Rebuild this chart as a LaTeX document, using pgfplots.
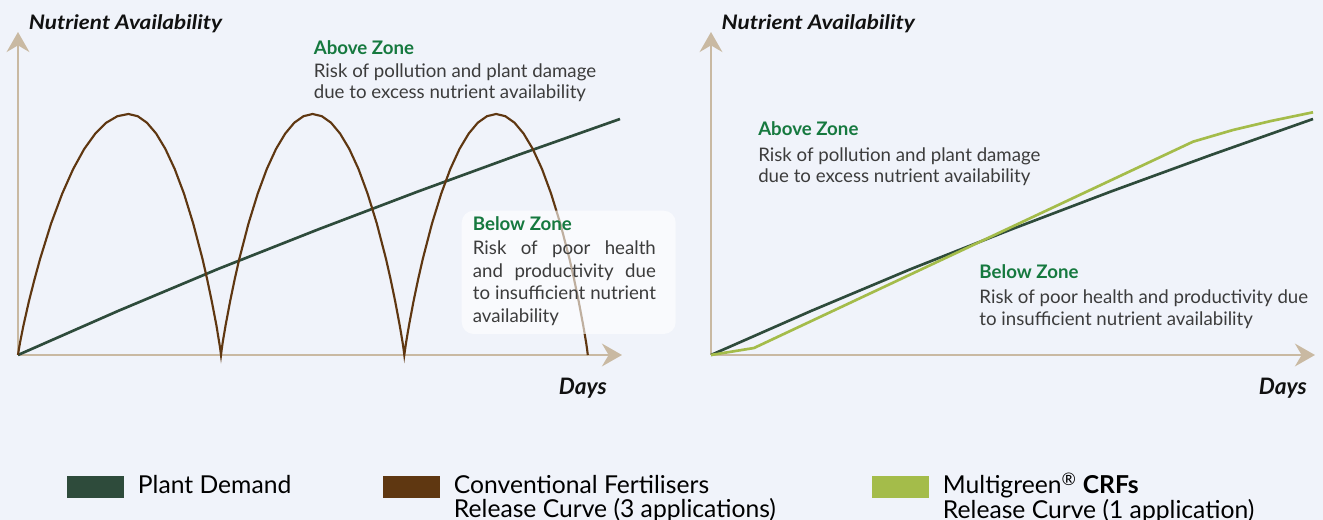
\documentclass[border=0pt]{standalone}
\usepackage{fontspec}
\setmainfont{Lato}
\usepackage{pgfplots}
\pgfplotsset{compat=1.18}
\usetikzlibrary{arrows.meta}
\definecolor{bg}{HTML}{F0F3FA}
\definecolor{axiscol}{HTML}{C9B9A2}
\definecolor{demand}{HTML}{2E4B3B}
\definecolor{brownc}{HTML}{5F3711}
\definecolor{lightg}{HTML}{A4BC4A}
\definecolor{zoneg}{HTML}{16793F}
\definecolor{bodytxt}{HTML}{3C3C3C}
\definecolor{titletxt}{HTML}{111111}

\pgfplotstableread{
x y
0 0
100 44
200 86
300 125.5
400 163.5
500 200
602 236
}\demandtab

\pgfplotstableread{
x y
0 0
1.1 7.1
2.2 13.2
5.5 29.7
11.0 54.1
16.6 76.0
22.1 96.1
33.1 131.5
44.2 161.3
55.2 186.0
66.2 206.0
77.3 221.4
88.3 232.3
99.4 238.8
110.4 241
119.7 238.8
128.9 232.3
138.2 221.4
147.4 206.0
156.7 186.0
166.0 161.3
175.2 131.5
184.5 96.1
189.1 76.0
193.7 54.1
198.4 29.7
201.1 13.2
202.1 7.1
203.0 0
203.9 7.1
204.8 13.2
207.6 29.7
212.2 54.1
216.75 76.0
221.3 96.1
230.5 131.5
239.7 161.3
248.8 186.0
258.0 206.0
267.2 221.4
276.3 232.3
285.5 238.8
294.65 241
303.8 238.8
313.0 232.3
322.1 221.4
331.3 206.0
340.5 186.0
349.6 161.3
358.8 131.5
368.0 96.1
372.55 76.0
377.1 54.1
381.7 29.7
384.5 13.2
385.4 7.1
386.3 0
387.3 7.1
388.2 13.2
391.0 29.7
395.6 54.1
400.2 76.0
404.8 96.1
414.0 131.5
423.2 161.3
432.3 186.0
441.5 206.0
450.7 221.4
459.8 232.3
469.0 238.8
478.15 241
487.3 238.8
496.5 232.3
505.6 221.4
514.8 206.0
524.0 186.0
533.1 161.3
542.3 131.5
551.5 96.1
556.05 76.0
560.6 54.1
565.2 29.7
568.0 13.2
568.9 7.1
569.8 0
}\conventab

\pgfplotstableread{
x y
0 0
43 7
482 213.3
522 225
560 234
602 242.7
}\multitab

\pgfplotsset{
  chartaxis/.style={
    x=0.75pt, y=0.75pt,
    xmin=0, xmax=604, ymin=0, ymax=323,
    axis lines=left,
    axis line style={draw=axiscol, line width=2.2pt, -{Stealth[length=15pt,width=17pt,inset=5pt]}},
    xtick=\empty, ytick=\empty,
    clip=false,
    anchor=south west,
  },
}
\newcommand{\bodyfont}{\fontsize{14pt}{16pt}\selectfont}
\newcommand{\titlefont}{\fontsize{15pt}{17pt}\selectfont\bfseries\itshape}
\newcommand{\daysfont}{\fontsize{17pt}{19pt}\selectfont\bfseries\itshape}
\newcommand{\zonefont}{\fontsize{14pt}{16pt}\selectfont\bfseries}

\begin{document}
\begin{tikzpicture}
\useasboundingbox (0,0) rectangle (992.25pt,390pt);
\fill[bg] (0,0) rectangle (992.25pt,390pt);

% Left chart
\begin{axis}[chartaxis, at={(13.5pt,123.75pt)}]
\addplot[demand, line width=2pt] table[x=x,y=y] {\demandtab};
\addplot[brownc, line width=1.6pt] table[x=x,y=y] {\conventab};
\fill[white, opacity=0.6, rounded corners=9pt] (axis cs:443.7,21) rectangle (axis cs:657.7,144.3);
\node[anchor=base west, font=\titlefont, text=titletxt, inner sep=0pt] at (axis cs:10.6,325.7) {\scalebox{1.13}[1]{Nutrient Availability}};
\node[anchor=base east, font=\daysfont, text=titletxt, inner sep=0pt] at (axis cs:589,-40) {Days};
\node[anchor=base west, font=\zonefont, text=zoneg, inner sep=0pt] at (axis cs:295.6,300) {Above Zone};
\node[anchor=base west, font=\bodyfont, text=bodytxt, inner sep=0pt] at (axis cs:295.6,277.7) {Risk of pollution and plant damage};
\node[anchor=base west, font=\bodyfont, text=bodytxt, inner sep=0pt] at (axis cs:295.6,256) {due to excess nutrient availability};
\node[anchor=base west, font=\zonefont, text=zoneg, inner sep=0pt] at (axis cs:454.6,124.3) {Below Zone};
\node[anchor=base west, font=\bodyfont, text=bodytxt, inner sep=0pt] at (axis cs:454.6,100) {\makebox[137.25pt][s]{Risk of poor health}};
\node[anchor=base west, font=\bodyfont, text=bodytxt, inner sep=0pt] at (axis cs:454.6,77.3) {\makebox[137.25pt][s]{and productivity due}};
\node[anchor=base west, font=\bodyfont, text=bodytxt, inner sep=0pt] at (axis cs:454.6,55) {\makebox[137.25pt][s]{to insufficient nutrient}};
\node[anchor=base west, font=\bodyfont, text=bodytxt, inner sep=0pt] at (axis cs:454.6,32.3) {availability};
\end{axis}

% Right chart
\begin{axis}[chartaxis, at={(533.25pt,123.75pt)},
  legend columns=3,
  legend style={at={(axis cs:-644,-118)}, anchor=north west, draw=none, fill=none,
    inner sep=0pt, outer sep=0pt, column sep=0pt,
    font=\fontsize{18.5pt}{17.5pt}\selectfont,
    cells={anchor=base west},
    nodes={inner sep=0pt, outer sep=0pt}},
  legend image code/.code={\fill[#1] (0pt,-3pt) rectangle (42.75pt,13.5pt); \path (53.25pt,0pt);},
]
\addplot[demand, line width=2pt, forget plot] table[x=x,y=y] {\demandtab};
\addplot[lightg, line width=2pt, forget plot] table[x=x,y=y] {\multitab};
\addlegendimage{draw=none, fill=demand}
\addlegendentry{\makebox[183.75pt][l]{Plant Demand}}
\addlegendimage{draw=none, fill=brownc}
\addlegendentry{\parbox[t]{313.5pt}{Conventional Fertilisers\\Release Curve (3 applications)}}
\addlegendimage{draw=none, fill=lightg}
\addlegendentry{\parbox[t]{270pt}{Multigreen\textsuperscript{®} \textbf{CRFs}\\Release Curve (1 application)}}
\node[anchor=base west, font=\titlefont, text=titletxt, inner sep=0pt] at (axis cs:10.3,325.7) {\scalebox{1.13}[1]{Nutrient Availability}};
\node[anchor=base east, font=\daysfont, text=titletxt, inner sep=0pt] at (axis cs:596,-40) {Days};
\node[anchor=base west, font=\zonefont, text=zoneg, inner sep=0pt] at (axis cs:47,219) {Above Zone};
\node[anchor=base west, font=\bodyfont, text=bodytxt, inner sep=0pt] at (axis cs:47,193.3) {Risk of pollution and plant damage};
\node[anchor=base west, font=\bodyfont, text=bodytxt, inner sep=0pt] at (axis cs:47,172.3) {due to excess nutrient availability};
\node[anchor=base west, font=\zonefont, text=zoneg, inner sep=0pt] at (axis cs:268.2,76) {Below Zone};
\node[anchor=base west, font=\bodyfont, text=bodytxt, inner sep=0pt] at (axis cs:268.2,51.7) {Risk of poor health and productivity due};
\node[anchor=base west, font=\bodyfont, text=bodytxt, inner sep=0pt] at (axis cs:268.2,29.3) {to insufficient nutrient availability};
\end{axis}
\end{tikzpicture}
\end{document}
